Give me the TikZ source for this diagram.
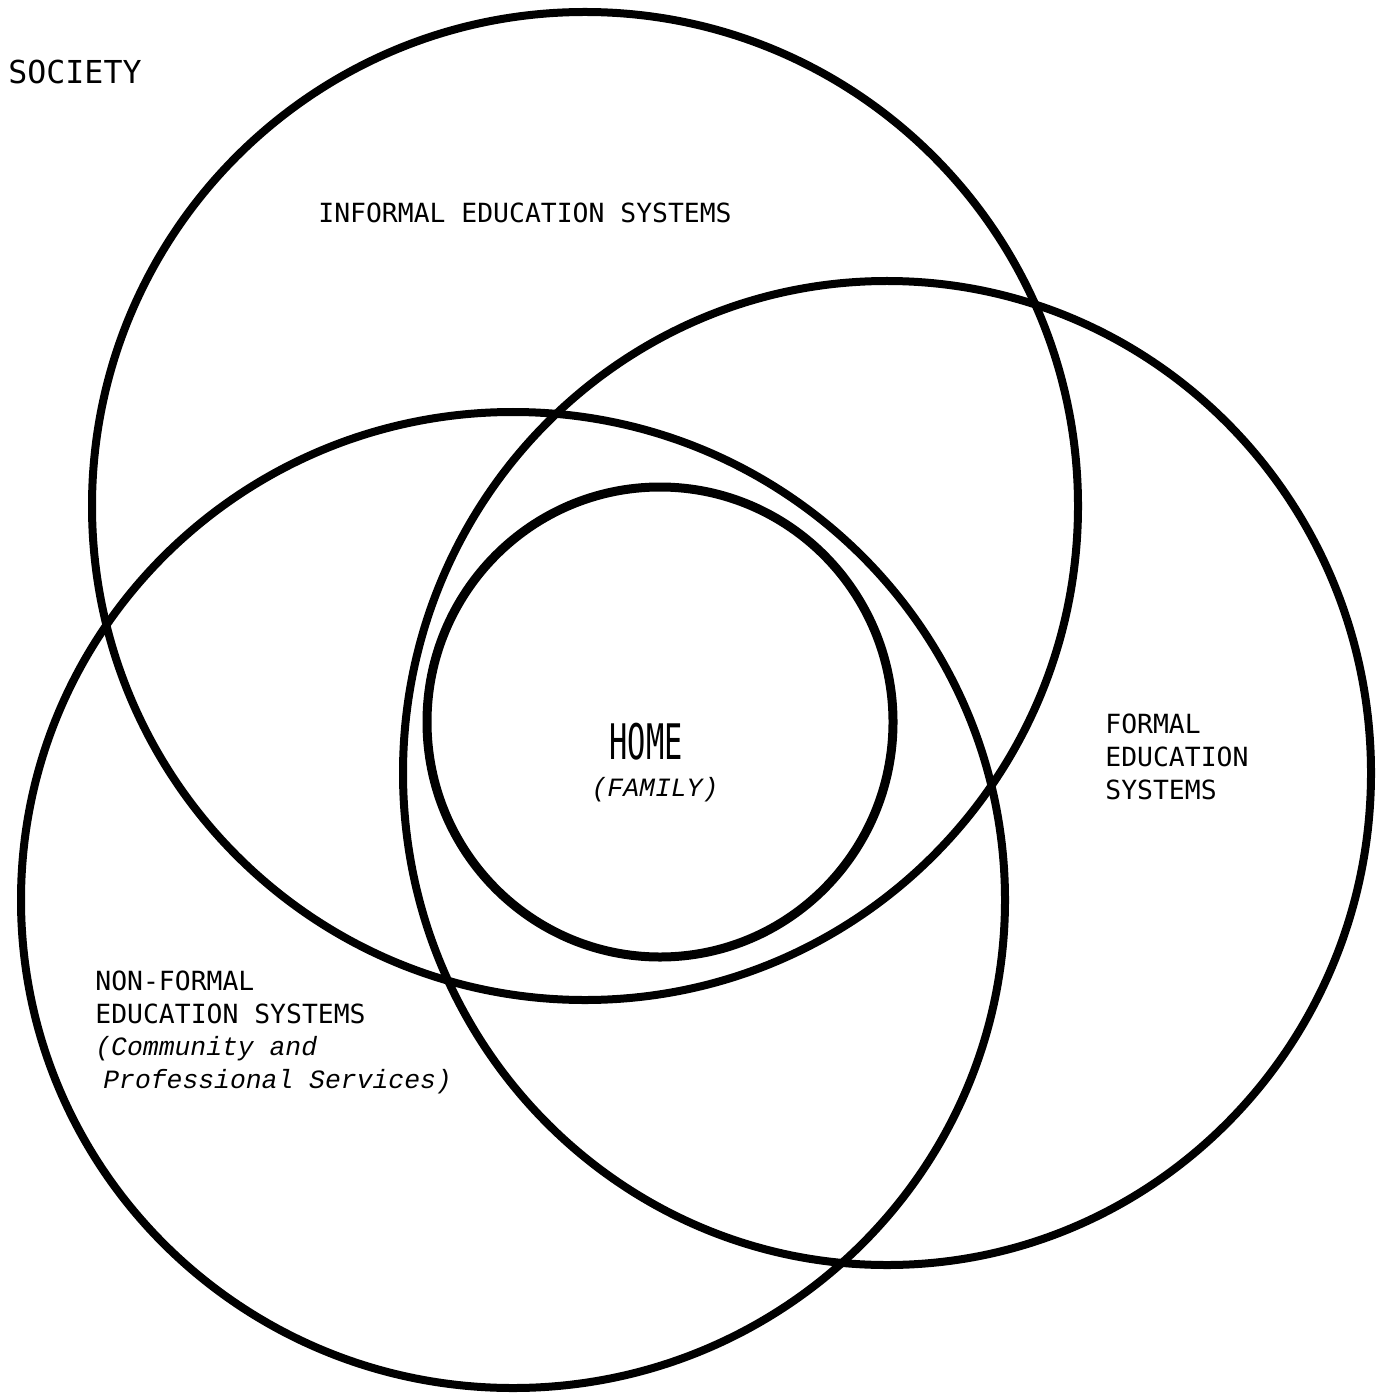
\documentclass[tikz,border=0pt]{standalone}
\usepackage{fontspec}
\newfontfamily\typefont{DejaVu Sans Mono}
\newfontfamily\italfont{Liberation Mono Italic}
\begin{document}
\begin{tikzpicture}[x=0.5pt,y=-0.5pt,
  ring/.style={draw=black,line width=4pt},
  lbl/.style={inner sep=0pt,font=\typefont\fontsize{13.2pt}{16.5pt}\selectfont,align=left},
  ilbl/.style={inner sep=0pt,font=\italfont\fontsize{13.2pt}{16.5pt}\selectfont,align=left}]
\useasboundingbox[fill=white] (0,0) rectangle (1376,1395);
% ellipses
\draw[ring] (585,506) ellipse [x radius=493, y radius=494];
\draw[ring] (887,773) ellipse [x radius=484, y radius=492];
\draw[ring] (513,900) ellipse [x radius=492, y radius=488];
\draw[ring,line width=4.5pt] (660,722) ellipse [x radius=233, y radius=235];
% labels
\node[lbl,anchor=west,font=\typefont\fontsize{15.8pt}{18pt}\selectfont] (society) at (8,72) {SOCIETY};
\node[lbl,anchor=west] (informal) at (318,213) {INFORMAL EDUCATION SYSTEMS};
\node[inner sep=0pt] (home) at (646,742) {\scalebox{0.62}[1]{\typefont\fontsize{24.5pt}{28pt}\selectfont HOME}};
\node[ilbl] (family) at (655,790) {(FAMILY)};
\node[lbl,anchor=west] (formal) at (1105,757) {FORMAL\\EDUCATION\\SYSTEMS};
\node[lbl,anchor=west] (nonformal) at (95,997) {NON-FORMAL\\EDUCATION SYSTEMS};
\node[ilbl,anchor=west] (services) at (95,1065) {(Community and\\\hspace*{0.3em}Professional Services)};
\end{tikzpicture}
\end{document}
